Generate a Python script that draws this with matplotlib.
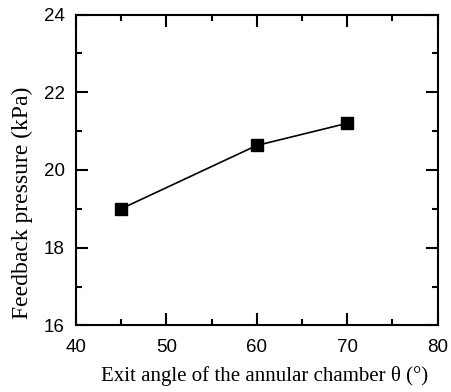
import matplotlib
matplotlib.use("Agg")
import matplotlib.pyplot as plt
from matplotlib.ticker import MultipleLocator

# data
angle = [45, 60, 70]
pressure = [19.0, 20.63, 21.2]

fig = plt.figure(figsize=(4.52, 3.92), dpi=100)
ax = fig.add_axes([0.168, 0.170, 0.800, 0.793])

ax.plot(angle, pressure, color="black", lw=1.2, marker="s", ms=8,
        markerfacecolor="black", markeredgecolor="black")

ax.set_xlim(40, 80)
ax.set_ylim(16, 24)
ax.xaxis.set_major_locator(MultipleLocator(10))
ax.xaxis.set_minor_locator(MultipleLocator(5))
ax.yaxis.set_major_locator(MultipleLocator(2))
ax.yaxis.set_minor_locator(MultipleLocator(1))

for s in ax.spines.values():
    s.set_linewidth(1.5)
ax.tick_params(which="both", direction="in", top=True, right=True, width=1.5)
ax.tick_params(which="major", length=8.5, labelsize=13.5)
ax.tick_params(axis="x", which="major", pad=10)
ax.tick_params(axis="y", which="major", pad=8)
ax.tick_params(which="minor", length=4.5)
for lab in ax.get_xticklabels() + ax.get_yticklabels():
    lab.set_family("Liberation Sans")

ax.set_xlabel("Exit angle of the annular chamber θ (°)", family="Liberation Serif",
              fontsize=15)
ax.set_ylabel("Feedback pressure (kPa)", family="Liberation Serif",
              fontsize=17)
# labels sit off-centre in the original
ax.xaxis.set_label_coords(0.521, -0.131)
ax.yaxis.set_label_coords(-0.118, 0.394)

fig.savefig("out.png", dpi=100)
